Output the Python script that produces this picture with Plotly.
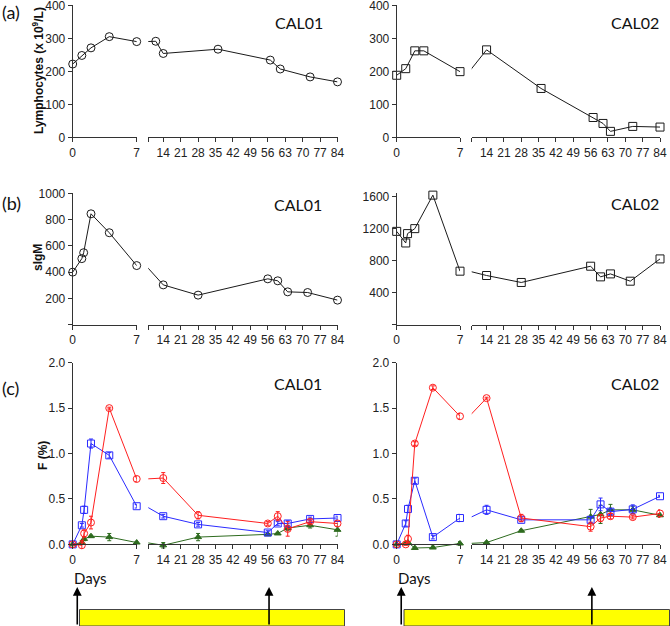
import plotly.graph_objects as go

W, H = 670, 626

# ---------------- data ----------------
lym_cal01_days = [0, 1, 2, 4, 7, 11, 14, 36, 57, 61, 73, 84]
lym_cal01 = [222, 248, 271, 305, 290, 291, 254, 267, 234, 207, 183, 168]
lym_cal02_days = [0, 1, 2, 3, 7, 14, 36, 57, 61, 64, 73, 84]
lym_cal02 = [188, 208, 262, 262, 199, 265, 148, 60, 42, 18, 33, 31]

sigm_days = [0, 1, 1.2, 2, 4, 7, 14, 28, 56, 60, 64, 72, 84]
sigm_cal01 = [400, 503, 548, 844, 700, 450, 303, 225, 349, 334, 250, 245, 187]
sigm_cal02 = [1165, 1020, 1137, 1199, 1617, 668, 614, 527, 730, 597, 634, 543, 821]

f_days = [0, 1, 1.25, 2, 4, 7, 14, 28, 56, 60, 64, 73, 84]
f_cal01_blue = [0.0, 0.21, 0.38, 1.11, 0.98, 0.42, 0.31, 0.22, 0.13, 0.23, 0.23, 0.28, 0.29]
f_cal01_blue_err = [0.01, 0.02, 0.04, 0.05, 0.03, 0.02, 0.02, 0.02, 0.02, 0.02, 0.03, 0.02, 0.02]
f_cal01_red = [0.0, -0.01, 0.12, 0.24, 1.50, 0.72, 0.73, 0.32, 0.23, 0.31, 0.17, 0.25, 0.23]
f_cal01_red_err = [0.01, 0.05, 0.04, 0.07, 0.01, 0.03, 0.06, 0.04, 0.02, 0.05, 0.08, 0.02, 0.03]
f_cal01_green = [0.0, 0.02, 0.06, 0.09, 0.08, 0.02, -0.01, 0.08, 0.11, 0.12, 0.18, 0.21, 0.16]
f_cal01_green_err = [0.01, 0.02, 0.02, 0.01, 0.04, 0.01, 0.03, 0.04, 0.01, 0.01, 0.03, 0.03, 0.07]

f_cal02_blue = [0.0, 0.23, 0.39, 0.70, 0.08, 0.29, 0.38, 0.27, 0.27, 0.44, 0.36, 0.385, 0.53]
f_cal02_blue_err = [0.01, 0.03, 0.04, 0.03, 0.02, 0.04, 0.05, 0.02, 0.03, 0.07, 0.03, 0.05, 0.01]
f_cal02_red = [0.0, 0.0, 0.06, 1.11, 1.725, 1.41, 1.61, 0.29, 0.195, 0.29, 0.31, 0.30, 0.34]
f_cal02_red_err = [0.01, 0.01, 0.04, 0.02, 0.02, 0.03, 0.01, 0.04, 0.05, 0.04, 0.03, 0.02, 0.04]
f_cal02_green = [0.0, 0.01, 0.02, -0.04, -0.035, 0.01, 0.02, 0.15, 0.305, 0.33, 0.38, 0.38, 0.32]
f_cal02_green_err = [0.01, 0.01, 0.01, 0.01, 0.03, 0.02, 0.01, 0.01, 0.08, 0.10, 0.06, 0.04, 0.02]

seg2_ticks = [14, 21, 28, 35, 42, 49, 56, 63, 70, 77, 84]
arrow_days = [0.5, 56.5]

RED, BLUE, GREEN, INK = "#ff1f1f", "#2b2bff", "#2e6b1f", "#1a1a1a"
TICKFONT = dict(family="Liberation Sans, Arial", size=12, color="#222")
LABELFONT = dict(family="Lato, Open Sans", size=16, color="#111")


def fx(p):
    return p / W


def fy(p):
    return 1 - p / H


def nm(kind, i):
    return kind if i == 1 else f"{kind}{i}"


# pixel layout of the two broken-axis segments and the three rows
cols = {"L": ((72.7, 136.7), (148.3, 337.5)), "R": ((396.7, 460.0), (471.7, 660.0))}
rows = {"a": (5.3, 137.3), "b": (193.3, 324.7), "c": (362.7, 548.9)}

fig = go.Figure()
layout = {}


def add_panel(n, col, row, yrange, yticks, ytext, series, zero_px=None):
    (s1a, s1b), (s2a, s2b) = cols[col]
    top, bot = rows[row]
    x1, x2 = 2 * n - 1, 2 * n
    axstyle = dict(showline=True, linecolor="#333", linewidth=1, ticks="outside",
                   ticklen=4, tickcolor="#333", tickfont=TICKFONT, showgrid=False,
                   zeroline=False, fixedrange=True, automargin=False,
                   ticklabeloverflow="allow")
    anchor = dict(anchor="free", position=fy(zero_px)) if zero_px else dict(anchor=nm("y", n))
    layout[nm("xaxis", x1)] = dict(domain=[fx(s1a), fx(s1b)], range=[0, 7],
                                   tickvals=[0, 7], **anchor, **axstyle)
    layout[nm("xaxis", x2)] = dict(domain=[fx(s2a), fx(s2b)], range=[8, 84],
                                   tickvals=[8] + seg2_ticks,
                                   ticktext=[""] + [str(t) for t in seg2_ticks],
                                   **anchor, **axstyle)
    layout[nm("yaxis", n)] = dict(domain=[fy(bot), fy(top)], range=yrange,
                                  tickvals=yticks, ticktext=ytext,
                                  anchor=nm("x", x1), **axstyle)
    for s in series:
        days, vals, err = s["x"], s["y"], s.get("err")
        for xi, lo, hi in ((x1, -1, 7), (x2, 8, 99)):
            fig.add_trace(go.Scatter(x=days, y=vals, mode="lines",
                                     line=dict(color=s["color"], width=1),
                                     xaxis=nm("x", xi), yaxis=nm("y", n),
                                     showlegend=False, hoverinfo="skip"))
            idx = [i for i, d in enumerate(days) if lo <= d <= hi]
            tr = dict(x=[days[i] for i in idx], y=[vals[i] for i in idx],
                      mode="markers", cliponaxis=False,
                      marker=dict(symbol=s["symbol"], size=s["size"], color=s["color"],
                                  line=dict(width=1, color=s["color"])),
                      xaxis=nm("x", xi), yaxis=nm("y", n), showlegend=False)
            if err:
                tr["error_y"] = dict(type="data", array=[err[i] for i in idx],
                                     width=2, thickness=1, color=s["color"])
            fig.add_trace(go.Scatter(**tr))


def black(days, vals, sym):
    return dict(x=days, y=vals, color=INK, symbol=sym, size=8)


add_panel(1, "L", "a", [0, 400], [0, 100, 200, 300, 400], None,
          [black(lym_cal01_days, lym_cal01, "circle-open")])
add_panel(2, "R", "a", [0, 400], [0, 100, 200, 300, 400], None,
          [black(lym_cal02_days, lym_cal02, "square-open")])
add_panel(3, "L", "b", [0, 1000], [0, 200, 400, 600, 800, 1000],
          ["", "200", "400", "600", "800", "1000"],
          [black(sigm_days, sigm_cal01, "circle-open")])
add_panel(4, "R", "b", [0, 1640], [0, 400, 800, 1200, 1600],
          ["", "400", "800", "1200", "1600"],
          [black(sigm_days, sigm_cal02, "square-open")])

ftick = [0, 0.5, 1.0, 1.5, 2.0]
ftext = ["0.0", "0.5", "1.0", "1.5", "2.0"]


def fser(vals, err, color, sym, size):
    return dict(x=f_days, y=vals, err=err, color=color, symbol=sym, size=size)


add_panel(5, "L", "c", [-0.05, 2.0], ftick, ftext, [
    fser(f_cal01_green, f_cal01_green_err, GREEN, "triangle-up", 6),
    fser(f_cal01_blue, f_cal01_blue_err, BLUE, "square-open", 7),
    fser(f_cal01_red, f_cal01_red_err, RED, "circle-open", 7),
], zero_px=544.4)
add_panel(6, "R", "c", [-0.05, 2.0], ftick, ftext, [
    fser(f_cal02_green, f_cal02_green_err, GREEN, "triangle-up", 6),
    fser(f_cal02_blue, f_cal02_blue_err, BLUE, "square-open", 7),
    fser(f_cal02_red, f_cal02_red_err, RED, "circle-open", 7),
], zero_px=544.4)

# ---------------- text ----------------
ann = []


def text(x, y, s, font, xanchor="center", **kw):
    ann.append(dict(x=fx(x), y=fy(y), xref="paper", yref="paper", text=s,
                    showarrow=False, font=font, xanchor=xanchor, yanchor="middle", **kw))


for lab, y in (("(a)", 12), ("(b)", 203), ("(c)", 388)):
    text(0, y, lab, dict(family="Lato, Open Sans", size=18, color="#111"), xanchor="left")

for x, y, s in ((299, 22, "CAL01"), (635, 22, "CAL02"), (298, 204, "CAL01"),
                (635, 203, "CAL02"), (298, 383, "CAL01"), (635, 383, "CAL02")):
    text(x, y, s, LABELFONT)

ybold = dict(family="Liberation Sans, Arial", size=12, color="#111")
text(38, 71, "<b>Lymphocytes (x 10<sup>9</sup>/L)</b>", ybold, textangle=-90)
text(38, 258, "<b>sIgM</b>", ybold, textangle=-90)
text(43, 456, "<b>F (%)</b>", ybold, textangle=-90)

text(72, 578, "Days", dict(family="Lato, Open Sans", size=15, color="#111"), xanchor="left")
text(396, 578, "Days", dict(family="Lato, Open Sans", size=15, color="#111"), xanchor="left")

# arrows marking the start (day 0) and day 56
for xr0, xr56 in (("x9", "x10"), ("x11", "x12")):
    for xr, d in ((xr0, arrow_days[0]), (xr56, arrow_days[1])):
        ann.append(dict(x=d, y=fy(587), xref=xr, yref="paper", ax=0, ay=40,
                        showarrow=True, arrowhead=2, arrowsize=1.1, arrowwidth=1.6,
                        arrowcolor="black", text=""))

shapes = [
    dict(type="rect", xref="paper", yref="paper", x0=fx(79.5), x1=fx(344.5),
         y0=fy(626), y1=fy(609.5), fillcolor="#ffff00",
         line=dict(color="#444", width=1), layer="below"),
    dict(type="rect", xref="paper", yref="paper", x0=fx(404), x1=fx(669.5),
         y0=fy(626), y1=fy(609.5), fillcolor="#ffff00",
         line=dict(color="#444", width=1), layer="below"),
]

fig.update_layout(width=W, height=H, margin=dict(l=0, r=0, t=0, b=0),
                  plot_bgcolor="white", paper_bgcolor="white",
                  annotations=ann, shapes=shapes, **layout)

# the page's default body margin would push the 670x626 figure out of the window
fig.write_html("out.html", config={"displayModeBar": False},
               post_script="document.body.style.margin='0px';")
